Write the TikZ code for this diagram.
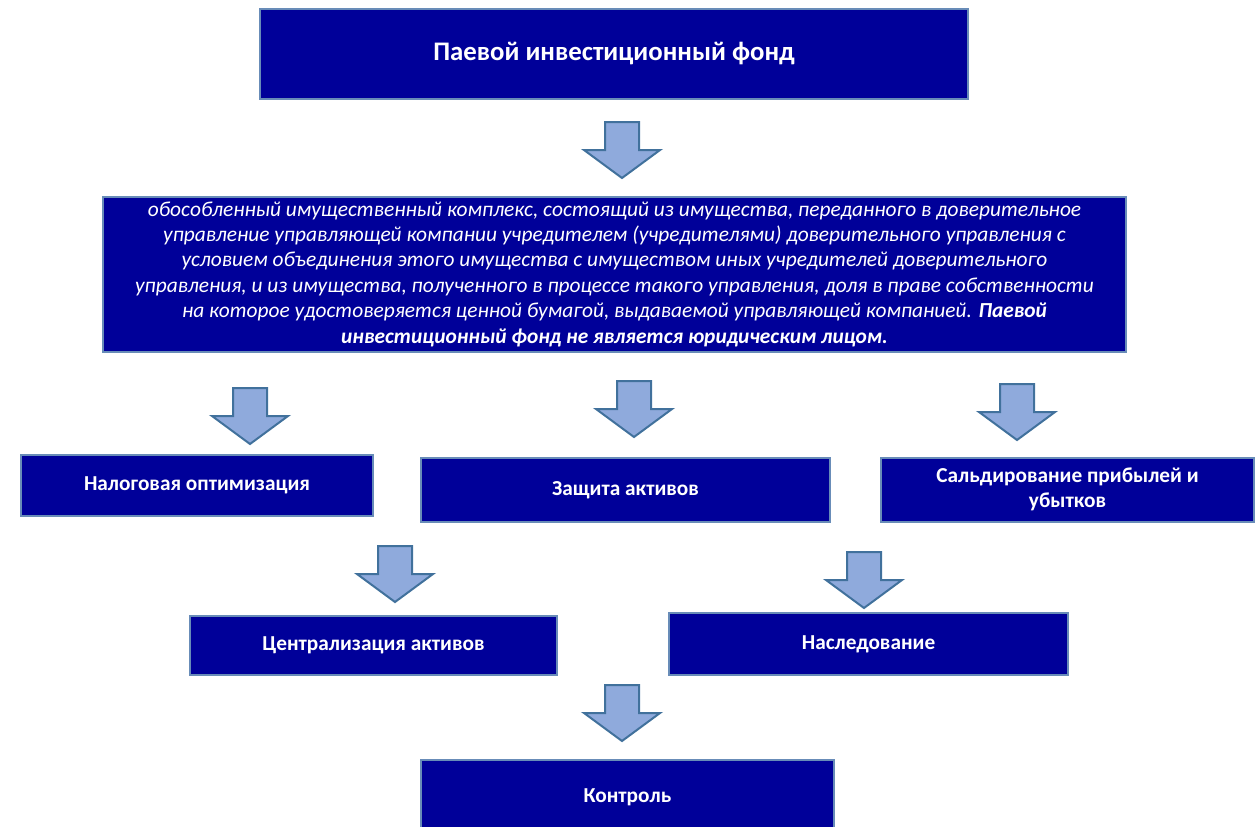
\documentclass[tikz,border=0pt]{standalone}
\usepackage{fontspec}
\setmainfont{Carlito}
\definecolor{boxblue}{RGB}{0,0,153}
\definecolor{boxedge}{RGB}{104,140,184}
\definecolor{arrfill}{RGB}{143,170,220}
\definecolor{arredge}{RGB}{65,113,156}

\begin{document}
\begin{tikzpicture}[x=0.5pt,y=-0.5pt]
\tikzset{
  fundbox/.style={draw=boxedge,fill=boxblue,line width=1pt,text=white,
    inner sep=0pt,align=center},
  arrowshape/.style={draw=arredge,fill=arrfill,line width=1pt,line join=miter},
  pics/downarr/.style={code={
    \draw[arrowshape] (-17,0) -- (17,0) -- (17,28) -- (38,28) -- (0,56)
      -- (-38,28) -- (-17,28) -- cycle;
  }}
}
\useasboundingbox (0,0) rectangle (1255,826);

% top
\node[fundbox,minimum width=354pt,minimum height=45pt,
  font=\fontsize{13.4}{16}\selectfont\bfseries] (fund) at (614,54)
  {Паевой инвестиционный фонд};
\pic (a1) at (622,122) {downarr};

% definition
\node[fundbox,minimum width=511.5pt,minimum height=77.5pt,
  font=\fontsize{10.7}{12.7}\selectfont\itshape] (def) at (614.5,274)
  {обособленный имущественный комплекс, состоящий из имущества, переданного в доверительное\\
   управление управляющей компании учредителем (учредителями) доверительного управления с\\
   условием объединения этого имущества с имуществом иных учредителей доверительного\\
   управления, и из имущества, полученного в процессе такого управления, доля в праве собственности\\
   на которое удостоверяется ценной бумагой, выдаваемой управляющей компанией. \textbf{Паевой}\\
   \textbf{инвестиционный фонд не является юридическим лицом.}};

\pic (a2) at (250,388) {downarr};
\pic (a3) at (634,381) {downarr};
\pic (a4) at (1017,384) {downarr};

% second row
\tikzset{small/.style={fundbox,font=\fontsize{10.65}{12.6}\selectfont\bfseries}}
\node[small,minimum width=176pt,minimum height=30.5pt] (tax) at (197,485.5)
  {\strut Налоговая оптимизация};
\node[small,minimum width=204.5pt,minimum height=32pt] (prot) at (625.5,490)
  {\strut Защита активов};
\node[small,minimum width=186.5pt,minimum height=32pt] (sald) at (1067.5,490)
  {\strut Сальдирование прибылей и\\\strut убытков};

\pic (a5) at (395,546) {downarr};
\pic (a6) at (864,552) {downarr};

% third row
\node[small,minimum width=183.5pt,minimum height=29.5pt] (cent) at (373.5,645.5)
  {\strut Централизация активов};
\node[small,minimum width=199.5pt,minimum height=31pt] (inh) at (868.5,644)
  {\strut Наследование};

\pic (a7) at (622,685) {downarr};

% bottom
\node[small,minimum width=206.5pt,minimum height=37pt] (ctrl) at (627.5,797)
  {\strut Контроль};
\end{tikzpicture}
\end{document}
